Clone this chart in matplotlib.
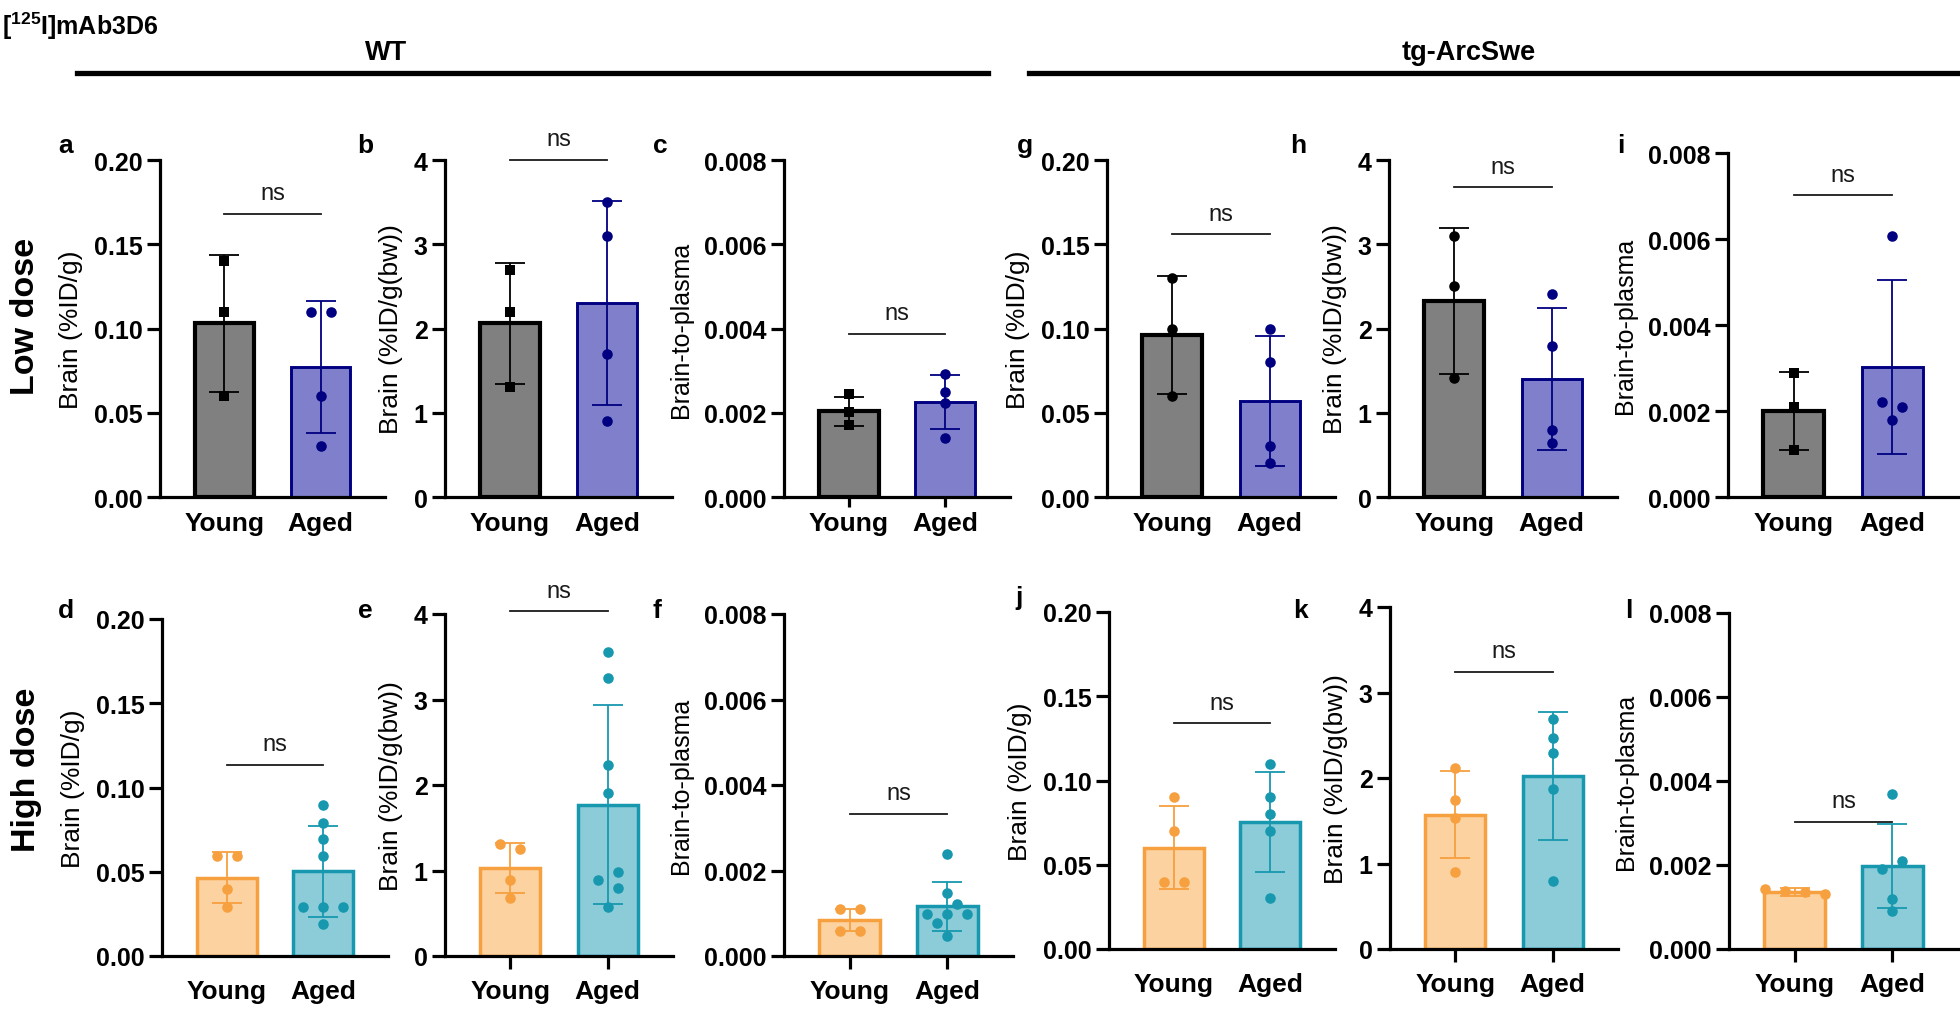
import numpy as np
import matplotlib
matplotlib.use('Agg')
import matplotlib.pyplot as plt

plt.rcParams['font.family'] = ['Liberation Sans', 'DejaVu Sans']
plt.rcParams['mathtext.fontset'] = 'custom'
plt.rcParams['mathtext.rm'] = 'Liberation Sans'
plt.rcParams['mathtext.bf'] = 'Liberation Sans:bold'

# ---------------- data ----------------
groups = ['Young', 'Aged']

# WT, low dose
a_mean = [0.103, 0.077];      a_sd = [0.0405, 0.0393]
a_young = [0.140, 0.110, 0.060]
a_aged = [0.110, 0.110, 0.060, 0.030]

b_mean = [2.06, 2.30];        b_sd = [0.715, 1.21]
b_young = [2.70, 2.20, 1.30]
b_aged = [3.50, 3.10, 1.70, 0.90]

c_mean = [0.00203, 0.00225];  c_sd = [0.000355, 0.000635]
c_young = [0.00244, 0.00202, 0.00170]
c_aged = [0.00292, 0.00250, 0.00223, 0.00140]

# tg-ArcSwe, low dose
g_mean = [0.0962, 0.057];     g_sd = [0.0352, 0.0387]
g_young = [0.130, 0.100, 0.060]
g_aged = [0.100, 0.080, 0.030, 0.020]

h_mean = [2.33, 1.40];        h_sd = [0.865, 0.842]
h_young = [3.10, 2.50, 1.41]
h_aged = [2.41, 1.79, 0.79, 0.645]

i_mean = [0.00200, 0.00302];  i_sd = [0.000905, 0.00203]
i_young = [0.00288, 0.00210, 0.00109]
i_aged = [0.00607, 0.00220, 0.00210, 0.00179]

# WT, high dose
d_mean = [0.0465, 0.0503];    d_sd = [0.0150, 0.0269]
d_young = [0.0594, 0.0594, 0.0396, 0.0291]
d_aged = [0.0895, 0.0792, 0.0693, 0.0594, 0.0293, 0.0293, 0.0293, 0.0192]

e_mean = [1.03, 1.77];        e_sd = [0.297, 1.161]
e_young = [1.307, 1.249, 0.890, 0.683]
e_aged = [3.56, 3.25, 2.236, 1.904, 0.987, 0.886, 0.792, 0.578]

f_mean = [0.00084, 0.00116];  f_sd = [0.00026, 0.00057]
f_young = [0.00109, 0.00109, 0.00059, 0.00059]
f_aged = [0.00238, 0.00147, 0.00121, 0.00098, 0.00098, 0.00098, 0.00078, 0.00047]

# tg-ArcSwe, high dose
j_mean = [0.0600, 0.0755];    j_sd = [0.0246, 0.0297]
j_young = [0.090, 0.070, 0.040, 0.040]
j_aged = [0.110, 0.090, 0.080, 0.070, 0.030]

k_mean = [1.57, 2.02];        k_sd = [0.51, 0.75]
k_young = [2.12, 1.745, 1.53, 0.896]
k_aged = [2.695, 2.465, 2.29, 1.87, 0.80]

l_mean = [0.00136, 0.00197];  l_sd = [0.00009, 0.00100]
l_young = [0.00142, 0.00138, 0.00135, 0.00130]
l_aged = [0.00370, 0.00210, 0.00190, 0.00120, 0.00090]

# height of the "ns" comparison bar in each panel
ns_level = {'a': 0.168, 'b': 4.0, 'c': 0.00387, 'g': 0.156, 'h': 3.675, 'i': 0.00702,
            'd': 0.1135, 'e': 4.03, 'f': 0.00332, 'j': 0.134, 'k': 3.244, 'l': 0.00303}

# ---------------- styling ----------------
W, H = 1960, 1012
fig = plt.figure(figsize=(W / 100, H / 100), dpi=100)

LOW = dict(fill=['#808080', '#7F7FCC'], edge=['#000000', '#000080'], lw=[3.0, 2.1])
HIGH = dict(fill=['#FCD2A1', '#8BCCD8'], edge=['#F7A040', '#1798AF'], lw=[2.5, 2.5])

Y_BRAIN = 'Brain (%ID/g)'
Y_BW = 'Brain (%ID/g(bw))'
Y_BP = 'Brain-to-plasma'

panels = [
    # letter, mean, sd, young, aged, kind, style, young marker, xticks, rect(px), letter pos
    ('a', a_mean, a_sd, a_young, a_aged, 'pct', LOW, 's', False, (160, 385, 161, 498), (58, 153)),
    ('b', b_mean, b_sd, b_young, b_aged, 'bw', LOW, 's', False, (445, 672, 161, 498), (357, 153)),
    ('c', c_mean, c_sd, c_young, c_aged, 'bp', LOW, 's', True, (784, 1010, 161, 498), (653, 153)),
    ('g', g_mean, g_sd, g_young, g_aged, 'pct', LOW, 'o', False, (1107, 1335, 161, 498), (1017, 153)),
    ('h', h_mean, h_sd, h_young, h_aged, 'bw', LOW, 'o', False, (1389, 1617, 161, 498), (1290, 153)),
    ('i', i_mean, i_sd, i_young, i_aged, 'bp', LOW, 's', False, (1728, 1958, 154, 498), (1617, 153)),
    ('d', d_mean, d_sd, d_young, d_aged, 'pct', HIGH, 'o', False, (162, 388, 620, 957), (58, 618)),
    ('e', e_mean, e_sd, e_young, e_aged, 'bw', HIGH, 'o', True, (445, 673, 615, 957), (358, 618)),
    ('f', f_mean, f_sd, f_young, f_aged, 'bp', HIGH, 'o', True, (784, 1013, 615, 957), (652, 618)),
    ('j', j_mean, j_sd, j_young, j_aged, 'pct', HIGH, 'o', False, (1109, 1335, 613, 950), (1015, 605)),
    ('k', k_mean, k_sd, k_young, k_aged, 'bw', HIGH, 'o', True, (1390, 1618, 608, 950), (1293, 618)),
    ('l', l_mean, l_sd, l_young, l_aged, 'bp', HIGH, 'o', True, (1729, 1958, 614, 950), (1625, 618)),
]

KINDS = {
    'pct': dict(top=0.20, ticks=np.arange(0, 0.2001, 0.05), fmt='{:.2f}', label=Y_BRAIN, lsize=19),
    'bw': dict(top=4.0, ticks=np.arange(0, 4.01, 1), fmt='{:.0f}', label=Y_BW, lsize=19),
    'bp': dict(top=0.008, ticks=np.arange(0, 0.00801, 0.002), fmt='{:.3f}', label=Y_BP, lsize=18),
}

XLIM = (-0.67, 1.67)
BAR_W = 0.62


def swarm_offsets(vals, px_per_unit, row_tol=6.0, chain_tol=10.5, step=20.0):
    vals = np.asarray(vals, float)
    ypx = vals * px_per_unit
    order = list(np.argsort(-vals, kind='stable'))
    off = np.zeros(len(vals))
    chains, cur = [], [order[0]]
    for kk in order[1:]:
        if ypx[cur[-1]] - ypx[kk] < chain_tol:
            cur.append(kk)
        else:
            chains.append(cur)
            cur = [kk]
    chains.append(cur)
    for ch in chains:
        rows, r = [], [ch[0]]
        for kk in ch[1:]:
            if ypx[r[0]] - ypx[kk] < row_tol:
                r.append(kk)
            else:
                rows.append(r)
                r = [kk]
        rows.append(r)
        sign = 1
        for r in rows:
            n = len(r)
            if n > 1:
                for q, kk in enumerate(r):
                    off[kk] = (q - (n - 1) / 2) * step
            elif len(rows) > 1:
                off[r[0]] = sign * step / 2
                sign = -sign
    return off


for (letter, mean, sd, young, aged, kind, st, ymark, xt, (x0, x1, yt, yb), (lx, ly)) in panels:
    K = KINDS[kind]
    top_row = yb < 600
    ax = fig.add_axes([x0 / W, 1 - yb / H, (x1 - x0) / W, (yb - yt) / H])
    ax.set_xlim(*XLIM)
    ax.set_ylim(0, K['top'])
    xs = np.arange(len(groups))
    for gi in range(2):
        ax.bar(xs[gi], mean[gi], width=BAR_W, color=st['fill'][gi], edgecolor=st['edge'][gi],
               linewidth=st['lw'][gi], zorder=2)
        ax.errorbar(xs[gi], mean[gi], yerr=sd[gi], fmt='none', ecolor=st['edge'][gi],
                    elinewidth=1.3, capsize=10.5, capthick=1.3, zorder=3)
    ax_h = yb - yt
    ax_w = x1 - x0
    ppu_y = ax_h / K['top']
    ppu_x = ax_w / (XLIM[1] - XLIM[0])
    for gi, pts in enumerate([young, aged]):
        offs = swarm_offsets(pts, ppu_y) / ppu_x
        mk = ymark if gi == 0 else 'o'
        ms = 6.8 if mk == 's' else 7.6
        ax.plot(xs[gi] + offs, pts, ls='none', marker=mk, ms=ms, color=st['edge'][gi],
                markeredgewidth=0, zorder=4, clip_on=False)

    # ns bar
    yn = ns_level[letter]
    ax.plot([0, 1], [yn, yn], color='#1a1a1a', lw=1.3, clip_on=False, zorder=5)
    ax.annotate('ns', xy=(0.5, yn), xytext=(0, 10.5), textcoords='offset points',
                ha='center', va='baseline', fontsize=17, color='#1a1a1a', annotation_clip=False)

    # axes styling
    for s in ['top', 'right']:
        ax.spines[s].set_visible(False)
    for s in ['left', 'bottom']:
        ax.spines[s].set_linewidth(2.3)
    ax.set_yticks(K['ticks'])
    ax.set_yticklabels([K['fmt'].format(t) for t in K['ticks']], fontsize=18, fontweight='bold')
    ax.set_xticks(xs)
    ax.set_xticklabels(groups, fontsize=19, fontweight='bold')
    ax.tick_params(axis='y', direction='out', length=9.5, width=2.3, pad=3)
    if top_row:
        ax.tick_params(axis='x', direction='out', length=7, width=2.3, pad=3,
                       color='black' if xt else (0, 0, 0, 0))
    else:
        ax.tick_params(axis='x', direction='out', length=9.5, width=2.3, pad=7,
                       color='black' if xt else (0, 0, 0, 0))
    ax.set_ylabel(K['label'], fontsize=K['lsize'], labelpad=8)

    fig.text(lx / W, 1 - ly / H, letter, fontsize=19, fontweight='bold', ha='left', va='baseline')

# headers
fig.text(2 / W, 1 - 35 / H, r'$\mathbf{[^{125}I]mAb3D6}$', fontsize=18, ha='left', va='baseline')
fig.text(386 / W, 1 - 60 / H, 'WT', fontsize=19.5, fontweight='bold', ha='center', va='baseline')
fig.text(1469 / W, 1 - 60 / H, 'tg-ArcSwe', fontsize=19.5, fontweight='bold', ha='center', va='baseline')
fig.add_artist(plt.Line2D([77 / W, 988 / W], [1 - 73.5 / H] * 2, color='black', lw=3.8))
fig.add_artist(plt.Line2D([1029 / W, 1960 / W], [1 - 73.5 / H] * 2, color='black', lw=3.8))

# row labels
fig.text(26 / W, 1 - 316 / H, 'Low dose', fontsize=24.5, fontweight='bold', rotation=90,
         ha='center', va='center')
fig.text(26 / W, 1 - 770 / H, 'High dose', fontsize=24.5, fontweight='bold', rotation=90,
         ha='center', va='center')

fig.savefig('out.png', dpi=100)
